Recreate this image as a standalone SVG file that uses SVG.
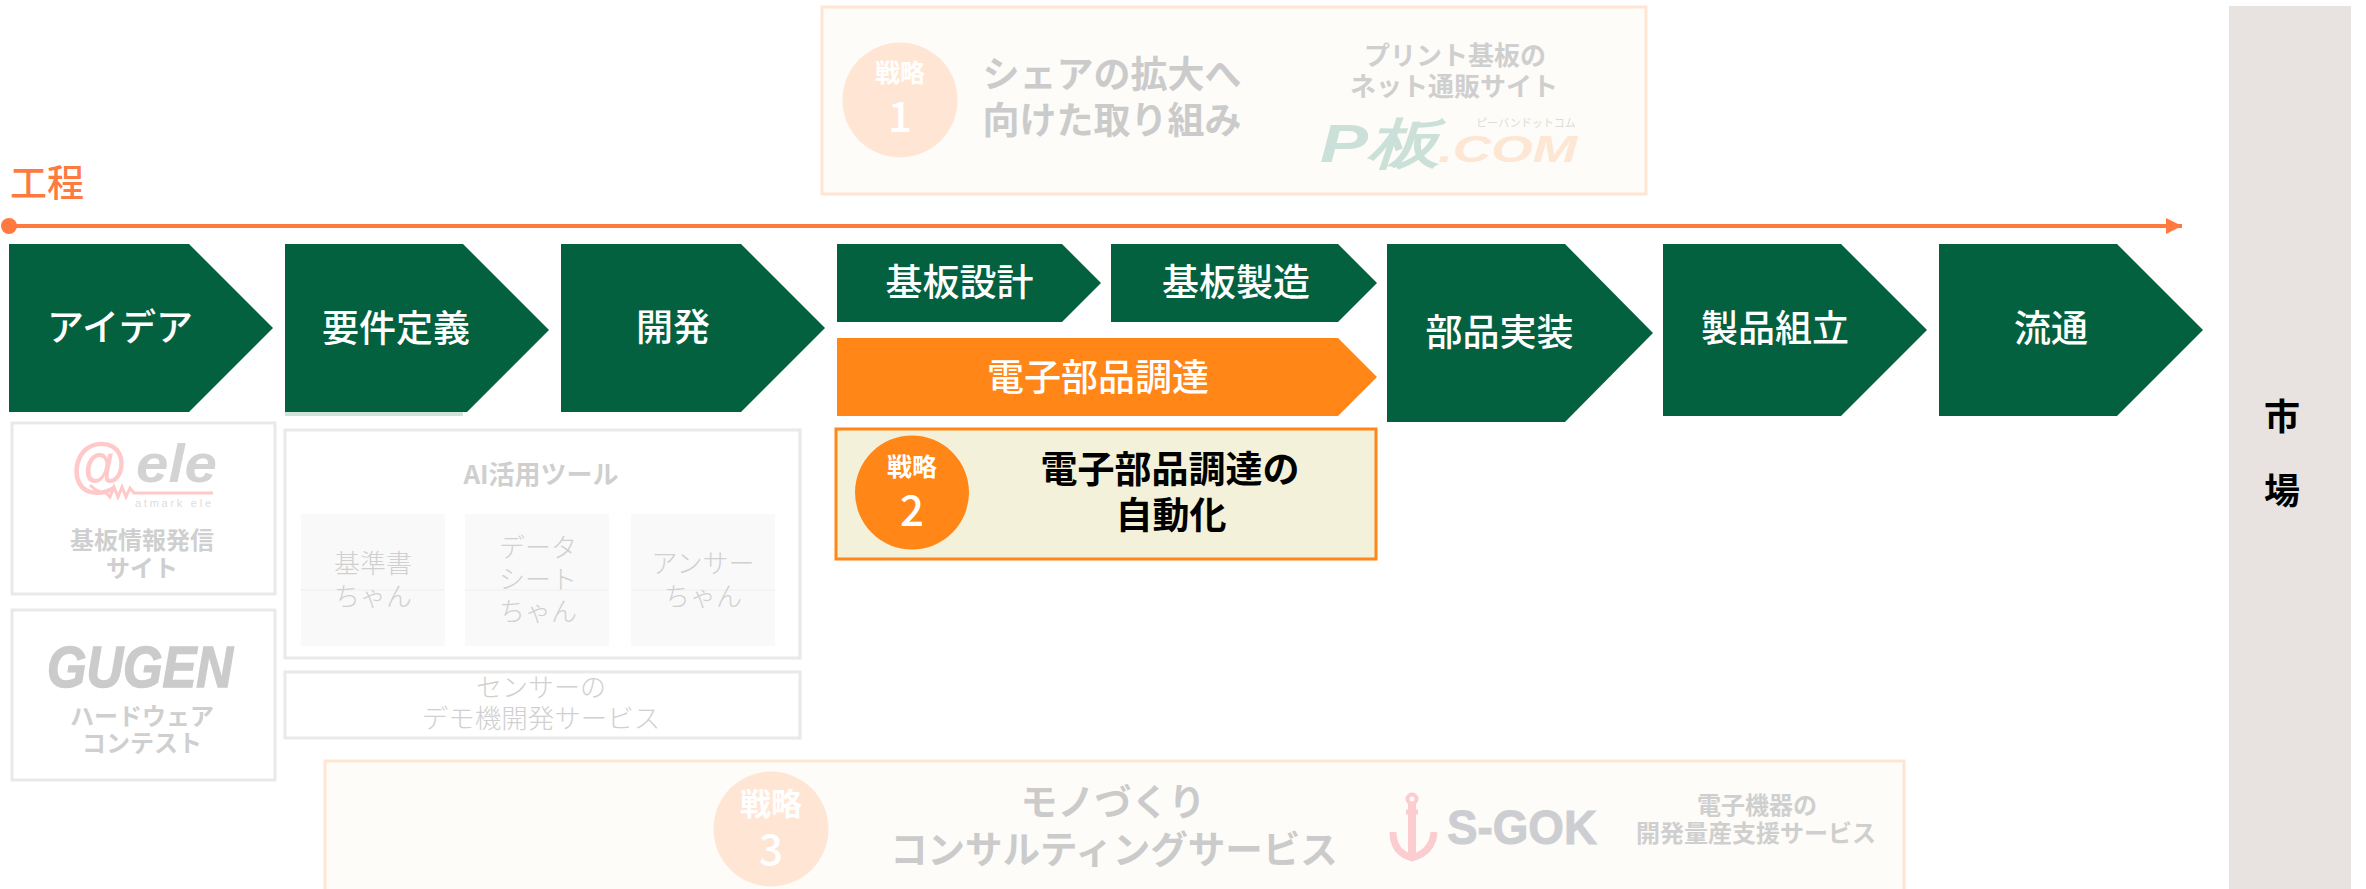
<svg xmlns="http://www.w3.org/2000/svg" width="2366" height="889" viewBox="0 0 2366 889">
<style>
text{font-family:"Noto Sans CJK JP","Noto Sans",sans-serif;text-anchor:middle;dominant-baseline:central}
.g{fill:#03613f}
.o{fill:#ff8617}
.w{fill:#fff;font-size:37px;font-weight:500}
.k{fill:#000;font-size:37px;font-weight:700}
.b37{fill:#cbcbcb;font-size:37px;font-weight:700}
.b26{fill:#cfcfcf;font-size:26px;font-weight:700}
.b24{fill:#cfcfcf;font-size:24px;font-weight:700}
.l26{fill:#d0d0d0;font-size:26px;font-weight:300}
.box{fill:#fff;stroke:#e9e9e9;stroke-width:3}
.small{fill:#f9f9f9}
.st{fill:#fdfcf8;stroke:#ffe5d2;stroke-width:3}
.c{fill:#ffe6d4}
.sw{fill:#fff;font-size:25px;font-weight:700}
.num{fill:#fff;font-size:42px;font-weight:500}
.logo{font-family:"Liberation Sans",Arial,sans-serif;text-anchor:start;dominant-baseline:alphabetic}
.tick{stroke:#eeeeee;stroke-width:1;fill:none}
</style>
<defs>
<marker id="arrow" markerUnits="userSpaceOnUse" markerWidth="16" markerHeight="16" refX="16" refY="8" orient="auto"><path d="M0 0L16 8L0 16Z" fill="#ff7a3f"/></marker>
</defs>

<g id="connectors">
<circle cx="9" cy="226" r="8" fill="#ff7a3f"/>
<line x1="9" y1="226" x2="2182" y2="226" stroke="#ff7a3f" stroke-width="4" marker-end="url(#arrow)"/>
</g>
<g id="label-koutei"><text x="47" y="181" style="fill:#ff7a3f;font-size:37px;font-weight:500">工程</text></g>

<g id="node-idea"><path class="g" d="M9 244H189L273 328L189 412H9Z"/><text class="w" x="120" y="325">アイデア</text></g>
<g id="node-youken"><rect x="285" y="412" width="178" height="4" fill="#cfe2da"/><path class="g" d="M285 244H463L549 330L467 412H285Z"/><text class="w" x="396" y="326">要件定義</text></g>
<g id="node-kaihatsu"><path class="g" d="M561 244H741L825 328L741 412H561Z"/><text class="w" x="673" y="325">開発</text></g>
<g id="node-sekkei"><path class="g" d="M837 244H1062L1101 283L1062 322H837Z"/><text class="w" x="959.500" y="280">基板設計</text></g>
<g id="node-seizou"><path class="g" d="M1111 244H1338L1377 283L1338 322H1111Z"/><text class="w" x="1236" y="280">基板製造</text></g>
<g id="node-chotatsu"><path class="o" d="M837 338H1338L1377 377L1338 416H837Z"/><text class="w" x="1098" y="375">電子部品調達</text></g>
<g id="node-jisso"><path class="g" d="M1387 244H1565L1653 333L1565 422H1387Z"/><text class="w" x="1499.500" y="330">部品実装</text></g>
<g id="node-kumitate"><path class="g" d="M1663 244H1841L1927 330L1841 416H1663Z"/><text class="w" x="1775" y="326">製品組立</text></g>
<g id="node-ryutsu"><path class="g" d="M1939 244H2117L2203 330L2117 416H1939Z"/><text class="w" x="2051" y="326">流通</text></g>

<g id="node-market"><rect x="2229" y="6" width="122" height="883" fill="#e8e3e1"/><text x="2282" y="414" style="fill:#000;font-size:36px;font-weight:700">市</text><text x="2282" y="488" style="fill:#000;font-size:36px;font-weight:700">場</text></g>

<g id="node-strategy1">
<rect class="st" x="822" y="7" width="824" height="187"/>
<circle class="c" cx="900" cy="100" r="57.500"/>
<text class="sw" x="900" y="71">戦略</text><text class="num" x="900" y="113">1</text>
<text class="b37" x="1112" y="72">シェアの拡大へ</text><text class="b37" x="1112" y="118">向けた取り組み</text>
<text class="b26" x="1455" y="53">プリント基板の</text><text class="b26" x="1454" y="84">ネット通販サイト</text>
<text class="logo" x="1320" y="162" font-size="54" font-weight="700" font-style="italic" fill="#cbe0d9" textLength="120" lengthAdjust="spacingAndGlyphs">P板</text>
<text class="logo" x="1438" y="162" font-size="36" font-weight="700" font-style="italic" fill="#fde6d3" textLength="139" lengthAdjust="spacingAndGlyphs">.COM</text>
<text x="1526" y="122" style="fill:#dcdcdc;font-size:11px">ピーバンドットコム</text>
</g>

<g id="node-strategy2">
<rect x="836" y="429" width="540" height="130" fill="#f3f1d9" stroke="#ff8617" stroke-width="3"/>
<circle class="o" cx="912" cy="492.500" r="57"/>
<text class="sw" x="912" y="465">戦略</text><text class="num" x="912" y="507">2</text>
<text class="k" x="1170" y="467">電子部品調達の</text><text class="k" x="1171" y="513">自動化</text>
</g>

<g id="node-strategy3">
<rect class="st" x="325" y="761" width="1579" height="140"/>
<circle class="c" cx="771" cy="829" r="57.500"/>
<text x="771" y="801" style="fill:#fff;font-size:31px;font-weight:700">戦略</text><text class="num" x="771" y="846">3</text>
<text class="b37" x="1113" y="800">モノづくり</text><text class="b37" x="1114" y="846" style="font-size:37.500px">コンサルティングサービス</text>
<g id="logo-anchor" fill="none" stroke="#fbccd0">
<circle cx="1412" cy="799" r="4.500" stroke-width="4"/>
<path d="M1412 804V858" stroke-width="8"/>
<path d="M1406 812H1418" stroke-width="5"/>
<path d="M1393 832C1393 848 1402 855 1412 858C1422 855 1433 848 1434 832" stroke-width="7"/>
</g>
<text class="logo" x="1447" y="844" font-size="48" font-weight="700" fill="#cdced2" stroke="#cdced2" stroke-width="1" textLength="150" lengthAdjust="spacingAndGlyphs">S-GOK</text>
<text class="b24" x="1757" y="803">電子機器の</text><text class="b24" x="1756" y="831">開発量産支援サービス</text>
</g>

<g id="node-atele">
<rect class="box" x="12" y="423" width="263" height="171"/>
<text class="logo" x="71" y="485" font-size="62" font-weight="700" fill="#ffc9c9" textLength="56" lengthAdjust="spacingAndGlyphs">@</text>
<text class="logo" x="136" y="482" font-size="54" font-weight="700" font-style="italic" fill="#d3d3d3" textLength="81" lengthAdjust="spacingAndGlyphs">ele</text>
<path d="M90 485Q98 493 106 493L110 497L114 487L118 497L122 487L126 497L130 488L134 493H213" fill="none" stroke="#ffc9c9" stroke-width="3"/>
<text class="logo" x="135" y="507" font-size="11" fill="#dddddd" textLength="76">atmark ele</text>
<text class="b24" x="142" y="538">基板情報発信</text><text class="b24" x="142" y="566">サイト</text>
</g>

<g id="node-gugen">
<rect class="box" x="12" y="610" width="263" height="170"/>
<text class="logo" x="47" y="687" font-size="58" font-weight="700" font-style="italic" fill="#cbcbcb" stroke="#cbcbcb" stroke-width="1.500" textLength="186" lengthAdjust="spacingAndGlyphs">GUGEN</text>
<text class="b24" x="142" y="714">ハードウェア</text><text class="b24" x="142" y="741">コンテスト</text>
</g>

<g id="node-ai">
<rect class="box" x="285" y="430" width="515" height="228"/>
<text class="b26" x="541" y="472">AI活用ツール</text>
<g id="node-kijunsho"><rect class="small" x="301" y="514" width="144" height="132"/><line class="tick" x1="301" y1="590" x2="445" y2="590"/><text class="l26" x="373" y="561">基準書</text><text class="l26" x="373" y="594">ちゃん</text></g>
<g id="node-datasheet"><rect class="small" x="465" y="514" width="144" height="132"/><line class="tick" x1="465" y1="590" x2="609" y2="590"/><text class="l26" x="538" y="545">データ</text><text class="l26" x="538" y="577">シート</text><text class="l26" x="538" y="609">ちゃん</text></g>
<g id="node-answer"><rect class="small" x="631" y="514" width="144" height="132"/><line class="tick" x1="631" y1="590" x2="775" y2="590"/><text class="l26" x="703" y="561">アンサー</text><text class="l26" x="703" y="594">ちゃん</text></g>
</g>

<g id="node-sensor">
<rect class="box" x="285" y="672" width="515" height="66"/>
<text class="l26" x="541" y="685">センサーの</text><text class="l26" x="541" y="716" style="font-size:26.500px">デモ機開発サービス</text>
</g>
</svg>
